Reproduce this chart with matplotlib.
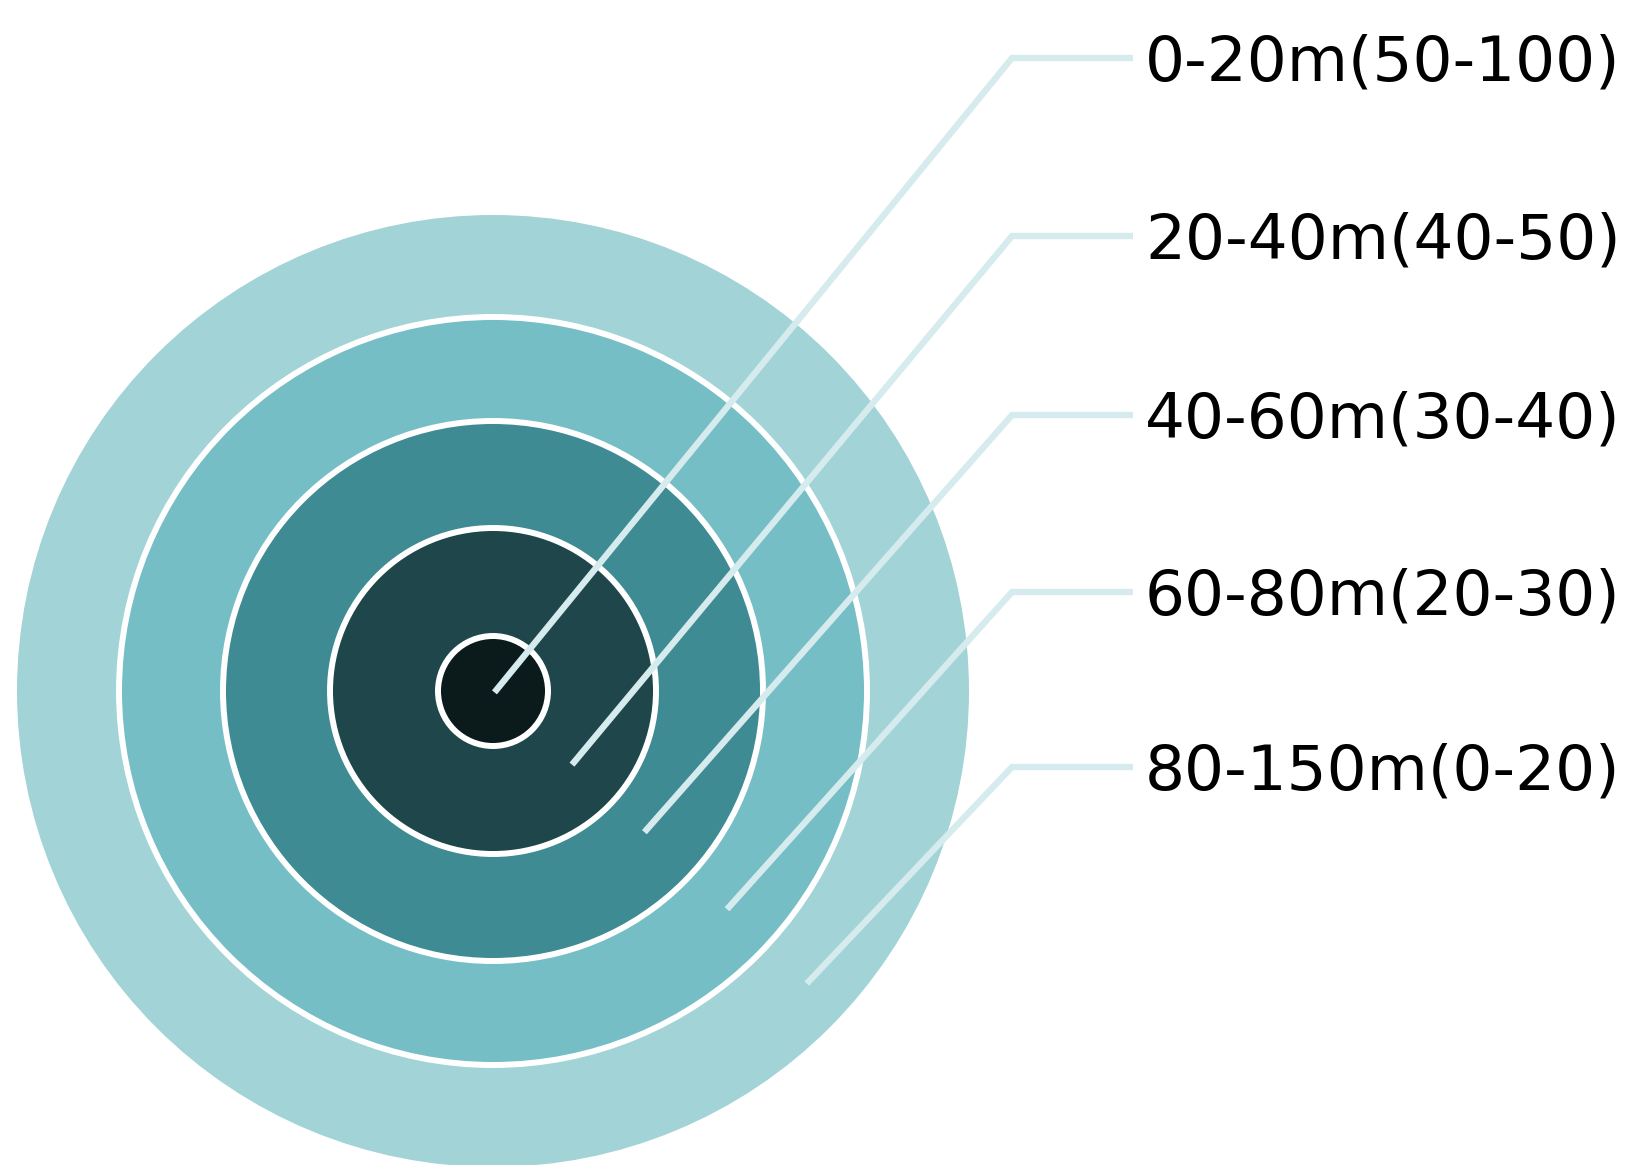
import matplotlib
matplotlib.use("Agg")
import matplotlib.pyplot as plt
from matplotlib.patches import Circle
import numpy as np

# ---- data ----
labels = ["0-20m(50-100)", "20-40m(40-50)", "40-60m(30-40)",
          "60-80m(20-30)", "80-150m(0-20)"]
ring_radius = [55, 163, 270, 374, 476]          # outer radius of each zone (inner -> outer)
ring_colors = ["#0b1a1b", "#1f474b", "#3f8b93", "#75bec5", "#a1d3d7"]

# ---- layout ----
W, H = 1631, 1165
cx, cy = 493, 691
leader_start_r = [2, 108, 207, 320, 429]
leader_angle = np.deg2rad(43)
label_y = [58, 236, 415, 592, 767]
elbow_x = 1012
line_end_x = 1133
text_x = 1145
leader_color = "#d6ebee"

fig = plt.figure(figsize=(W / 100, H / 100), dpi=100)
ax = fig.add_axes([0, 0, 1, 1])
ax.set_xlim(0, W)
ax.set_ylim(H, 0)
ax.axis("off")

# rings drawn from outermost to innermost
n = len(ring_radius)
for i in range(n - 1, -1, -1):
    edge = "none" if i == n - 1 else "white"
    ax.add_patch(Circle((cx, cy), ring_radius[i], facecolor=ring_colors[i],
                        edgecolor=edge, linewidth=4.3, zorder=1 + (n - i)))

# leader lines and labels
for i, lab in enumerate(labels):
    sx = cx + leader_start_r[i] * np.cos(leader_angle)
    sy = cy + leader_start_r[i] * np.sin(leader_angle)
    ax.plot([sx, elbow_x, line_end_x], [sy, label_y[i], label_y[i]],
            color=leader_color, linewidth=4.6, solid_capstyle="butt",
            solid_joinstyle="miter", zorder=20)
    ax.text(text_x, label_y[i] - 1, lab, fontsize=45.3, family="DejaVu Sans",
            color="black", ha="left", va="center_baseline", zorder=21)

fig.savefig("out.png", dpi=100)
